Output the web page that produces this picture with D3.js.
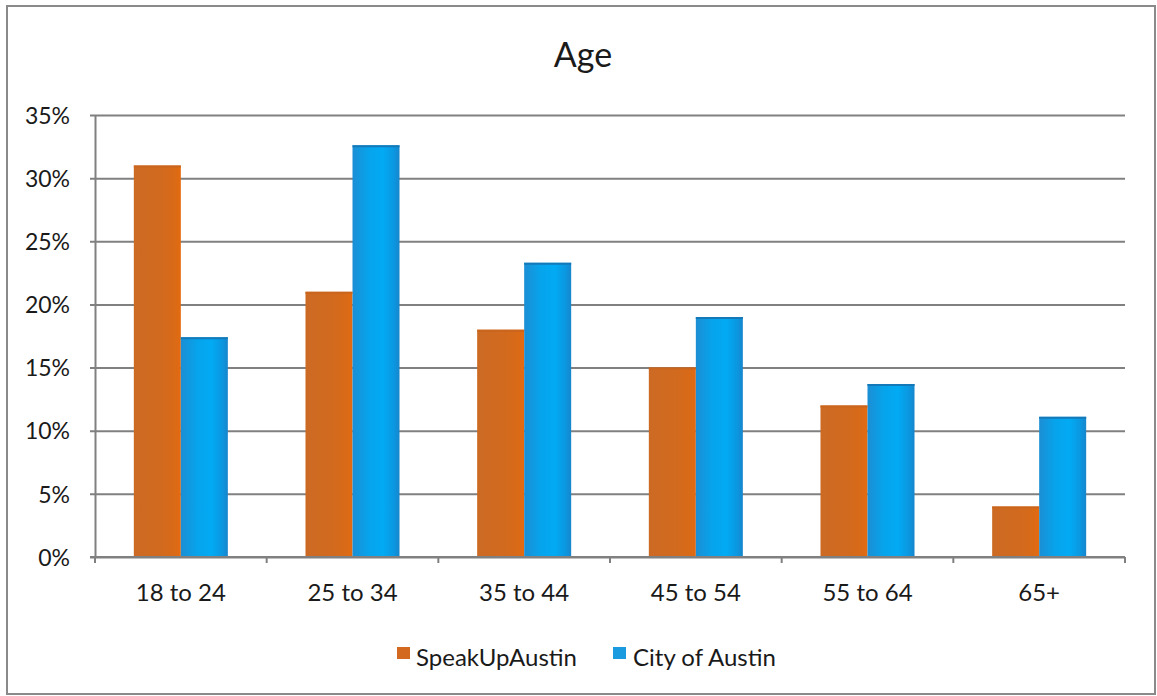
<!DOCTYPE html>
<html>
<head>
<meta charset="utf-8">
<script src="https://cdn.jsdelivr.net/npm/d3@7"></script>
<style>
  html, body { margin: 0; padding: 0; background: #fff; }
  svg { display: block; }
  text { font-family: Lato, "Open Sans", sans-serif; fill: #1a1a1a; }
</style>
</head>
<body>
<svg id="chart" width="1157" height="696"></svg>
<script>
// Age distribution: survey respondents vs. city population
const categories = ["18 to 24", "25 to 34", "35 to 44", "45 to 54", "55 to 64", "65+"];
const seriesNames = ["SpeakUpAustin", "City of Austin"];
const speakUpAustin = [0.31, 0.21, 0.18, 0.15, 0.12, 0.04];
const cityOfAustin = [0.174, 0.326, 0.233, 0.19, 0.137, 0.111];
const yTicks = [0, 0.05, 0.10, 0.15, 0.20, 0.25, 0.30, 0.35];

const rows = categories.map((c, i) => ({
  category: c,
  values: [
    { series: seriesNames[0], value: speakUpAustin[i] },
    { series: seriesNames[1], value: cityOfAustin[i] }
  ]
}));

const svg = d3.select("#chart");
const plot = { left: 95, right: 1125, top: 115, bottom: 557 };

// Outer frame
svg.append("rect")
  .attr("x", 7).attr("y", 6)
  .attr("width", 1148).attr("height", 688)
  .attr("fill", "#fff")
  .attr("stroke", "#8a8a8a").attr("stroke-width", 2);

// Gradients for the bar fills
const defs = svg.append("defs");
const gOrange = defs.append("linearGradient").attr("id", "gradOrange")
  .attr("x1", "0%").attr("x2", "100%").attr("y1", "0%").attr("y2", "0%");
[["0%", "#cc6a24"], ["60%", "#d26a1e"], ["85%", "#d86a18"], ["100%", "#e46a10"]]
  .forEach(([o, c]) => gOrange.append("stop").attr("offset", o).attr("stop-color", c));
const gBlue = defs.append("linearGradient").attr("id", "gradBlue")
  .attr("x1", "0%").attr("x2", "100%").attr("y1", "0%").attr("y2", "0%");
[["0%", "#1c8ed4"], ["35%", "#06a4ec"], ["65%", "#02aaf4"], ["88%", "#0b97e0"], ["100%", "#1786cc"]]
  .forEach(([o, c]) => gBlue.append("stop").attr("offset", o).attr("stop-color", c));
const fills = { "SpeakUpAustin": "url(#gradOrange)", "City of Austin": "url(#gradBlue)" };
const solid = { "SpeakUpAustin": "#d2691e", "City of Austin": "#1a9be0" };
const edge = { "SpeakUpAustin": "#c9651c", "City of Austin": "#1479b8" };

// Scales
const x0 = d3.scaleBand().domain(categories).range([plot.left, plot.right]).padding(0);
const x1 = d3.scaleBand().domain(seriesNames).range([0, x0.bandwidth()])
  .paddingInner(0).paddingOuter(0.826);
const y = d3.scaleLinear().domain([0, 0.35]).range([plot.bottom, plot.top]);

// Horizontal gridlines with left tick marks
const yAxis = d3.axisLeft(y).tickValues(yTicks).tickFormat(d3.format(".0%"))
  .tickSize(-(plot.right - plot.left)).tickSizeOuter(0).tickPadding(25);
const gy = svg.append("g").attr("transform", `translate(${plot.left},0)`).call(yAxis);
gy.select(".domain").attr("stroke", "#808080").attr("stroke-width", 2);
gy.selectAll(".tick line").attr("stroke", "#808080").attr("stroke-width", 2)
  .attr("x1", -5);
gy.selectAll(".tick text")
  .style("font-size", "23px").style("font-family", "Lato, sans-serif")
  .attr("fill", "#1a1a1a").attr("dy", "0.36em");

// Bars
const groups = svg.append("g").selectAll("g").data(rows).join("g")
  .attr("transform", d => `translate(${x0(d.category)},0)`);
groups.selectAll("rect").data(d => d.values).join("rect")
  .attr("x", d => x1(d.series))
  .attr("y", d => y(d.value))
  .attr("width", x1.bandwidth())
  .attr("height", d => y(0) - y(d.value))
  .attr("fill", d => fills[d.series]);
groups.selectAll("line.top").data(d => d.values).join("line")
  .attr("class", "top")
  .attr("x1", d => x1(d.series)).attr("x2", d => x1(d.series) + x1.bandwidth())
  .attr("y1", d => y(d.value) + 1).attr("y2", d => y(d.value) + 1)
  .attr("stroke", d => edge[d.series]).attr("stroke-width", 2);

// Category axis with boundary ticks
const boundaries = categories.map(c => x0(c)).concat([plot.right]);
svg.append("line")
  .attr("x1", plot.left - 5).attr("x2", plot.right)
  .attr("y1", plot.bottom).attr("y2", plot.bottom)
  .attr("stroke", "#808080").attr("stroke-width", 2);
svg.append("g").selectAll("line").data(boundaries).join("line")
  .attr("x1", d => d).attr("x2", d => d)
  .attr("y1", plot.bottom).attr("y2", plot.bottom + 6)
  .attr("stroke", "#808080").attr("stroke-width", 2);
svg.append("g").selectAll("text").data(categories).join("text")
  .attr("x", d => x0(d) + x0.bandwidth() / 2)
  .attr("y", 601)
  .attr("text-anchor", "middle")
  .style("font-size", "24px")
  .text(d => d);

// Title
svg.append("text")
  .attr("x", 583).attr("y", 67)
  .attr("text-anchor", "middle")
  .style("font-size", "34px")
  .text("Age");

// Legend
const legendItems = [
  { name: seriesNames[0], sx: 397, tx: 416 },
  { name: seriesNames[1], sx: 613, tx: 633 }
];
const lg = svg.append("g");
lg.selectAll("rect").data(legendItems).join("rect")
  .attr("x", d => d.sx).attr("y", 647)
  .attr("width", 13).attr("height", 12)
  .attr("fill", d => solid[d.name]);
lg.selectAll("text").data(legendItems).join("text")
  .attr("x", d => d.tx).attr("y", 666)
  .style("font-size", "24px")
  .text(d => d.name);
</script>
</body>
</html>
